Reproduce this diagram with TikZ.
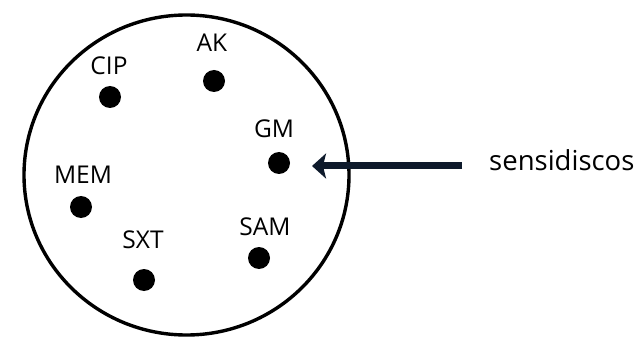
\documentclass[tikz,border=0pt]{standalone}
\usepackage{fontspec}
\setmainfont{Open Sans}
\usetikzlibrary{arrows.meta}
\definecolor{navy}{HTML}{0E1A2B}
\tikzset{
  disk/.style={circle, fill=black, inner sep=0pt, minimum size=22pt},
  lbl/.style={anchor=base, inner sep=0pt, font=\fontsize{24.5}{28}\selectfont},
  plate/.style={draw=black, line width=3.4pt},
  pointer/.style={draw=navy, line width=7pt, -{Stealth[length=14pt, width=25pt, inset=3pt]}}
}
\begin{document}
\begin{tikzpicture}[x=1pt, y=-1pt]
  \useasboundingbox (0,0) rectangle (642,339);
  % agar plate
  \draw[plate] (186.5,175) ellipse [x radius=162.5, y radius=160];
  % antibiotic discs
  \node[disk] (cip) at (110,97) {};
  \node[disk] (ak)  at (214,81) {};
  \node[disk] (gm)  at (279,163) {};
  \node[disk] (mem) at (81,207) {};
  \node[disk] (sxt) at (144,280) {};
  \node[disk] (sam) at (259,258) {};
  % disc labels
  \node[lbl] (lcip) at (109,75)  {CIP};
  \node[lbl] (lak)  at (212,52)  {AK};
  \node[lbl] (lgm)  at (274,138) {GM};
  \node[lbl] (lmem) at (83,183)  {MEM};
  \node[lbl] (lsxt) at (143,248) {SXT};
  \node[lbl] (lsam) at (265,235) {SAM};
  % pointer to the discs
  \node[lbl, anchor=base west, font=\fontsize{27.5}{30}\selectfont] (sens) at (489,171) {sensidiscos};
  \coordinate (tail) at (462,166);
  \coordinate (tip) at (312,166);
  \draw[pointer] (tail) -- (tip);
\end{tikzpicture}
\end{document}
